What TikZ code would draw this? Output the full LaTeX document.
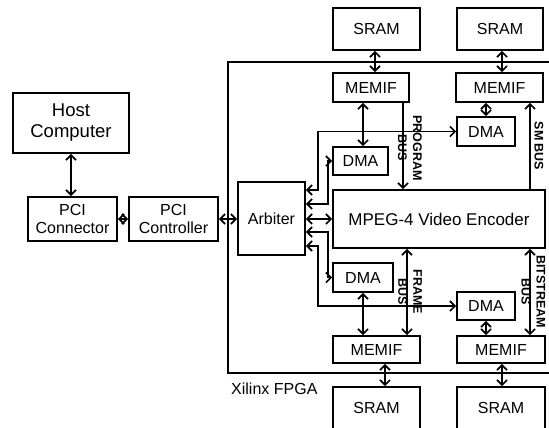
\documentclass[tikz,border=0pt]{standalone}
\usepackage{fontspec}
\setmainfont{Liberation Sans}
\usetikzlibrary{arrows.meta}
\begin{document}
\begin{tikzpicture}[x=1pt,y=-1pt,
  box/.style={draw,line width=1.7pt,inner sep=0pt,align=center,
    font=\fontsize{16}{18}\selectfont},
  link/.style={line width=1.7pt,
    arrows={Straight Barb[length=5pt,width=10pt]-Straight Barb[length=5pt,width=10pt]}},
  tohead/.style={line width=1.7pt,-{Straight Barb[length=5pt,width=10pt]}},
  buslabel/.style={rotate=-90,align=center,inner sep=0pt,
    font=\bfseries\fontsize{12.5}{15}\selectfont}]
\useasboundingbox (0,0) rectangle (549,428);

% FPGA outline (open to the right)
\draw[line width=1.7pt] (549,62) -- (228,62) -- (228,373) -- (549,373);
\node[anchor=west,inner sep=0pt,font=\fontsize{16}{18}\selectfont] (fpga) at (231,389) {Xilinx FPGA};

% host side
\node[box,minimum width=116,minimum height=60,font=\fontsize{18.5}{21}\selectfont] (host) at (71,123) {Host\\Computer};
\node[box,minimum width=89,minimum height=44] (pciconn) at (72.5,219) {PCI\\Connector};
\node[box,minimum width=89,minimum height=44] (pcictrl) at (173.5,219) {PCI\\Controller};

% FPGA blocks
\node[box,minimum width=67,minimum height=73] (arbiter) at (271.5,218.5) {Arbiter};
\node[box,minimum width=212,minimum height=58,font=\fontsize{17}{19}\selectfont] (enc) at (439,219) {MPEG-4 Video Encoder};

\node[box,minimum width=87,minimum height=42] (sram1) at (376.5,29) {SRAM};
\node[box,minimum width=86,minimum height=42] (sram2) at (500,29) {SRAM};
\node[box,minimum width=76,minimum height=29] (memif1) at (371,87.5) {MEMIF};
\node[box,minimum width=87,minimum height=29] (memif2) at (499.5,87.5) {MEMIF};
\node[box,minimum width=55,minimum height=28] (dma1) at (360.5,161) {DMA};
\node[box,minimum width=58,minimum height=29] (dma2) at (486,131.5) {DMA};

\node[box,minimum width=60,minimum height=29] (dma3) at (363,277.5) {DMA};
\node[box,minimum width=58,minimum height=28] (dma4) at (486,306) {DMA};
\node[box,minimum width=87,minimum height=27] (memif3) at (376.5,349.5) {MEMIF};
\node[box,minimum width=88,minimum height=27] (memif4) at (501,349.5) {MEMIF};
\node[box,minimum width=87,minimum height=42] (sram3) at (376.5,408) {SRAM};
\node[box,minimum width=88,minimum height=42] (sram4) at (501,408) {SRAM};

% column and row guides for the connectors
\coordinate (cSramA) at (375,0);
\coordinate (cSramB) at (502,0);
\coordinate (cDma) at (363,0);
\coordinate (cProg) at (403,0);
\coordinate (cSm) at (530,0);
\coordinate (cFrame) at (407,0);
\coordinate (cLinkB) at (486,0);
\coordinate (cSramC) at (385,0);
\coordinate (cOut) at (318,0);
\coordinate (cIn) at (328,0);
\coordinate (r1) at (0,190);
\coordinate (r2) at (0,204);
\coordinate (r4) at (0,232);
\coordinate (r5) at (0,246);

% host side connectors
\draw[link] (host.south) -- (host.south |- pciconn.north);
\draw[link] (pciconn.east) -- (pcictrl.west);
\draw[link] (pcictrl.east) -- (pcictrl.east -| arbiter.west);

% upper memory path
\draw[link] (sram1.south -| cSramA) -- (memif1.north -| cSramA);
\draw[link] (sram2.south -| cSramB) -- (memif2.north -| cSramB);
\draw[link] (memif1.south -| cDma) -- (dma1.north -| cDma);
\draw[link] (memif2.south -| cLinkB) -- (dma2.north -| cLinkB);
\draw[tohead] (memif1.south -| cProg) -- (enc.north -| cProg);
\draw[tohead] (enc.north -| cSm) -- (memif2.south -| cSm);

% arbiter fan-out
\draw[link] (arbiter.east |- r1) -| (cOut |- dma2.west) -- (dma2.west);
\draw[link] (arbiter.east |- r2) -| (cIn |- dma1.west) -- (dma1.west);
\draw[link] (arbiter.east |- enc.west) -- (enc.west);
\draw[link] (arbiter.east |- r4) -| (cIn |- dma3.west) -- (dma3.west);
\draw[link] (arbiter.east |- r5) -| (cOut |- dma4.west) -- (dma4.west);

% lower memory path
\draw[link] (dma3.south -| cDma) -- (memif3.north -| cDma);
\draw[link] (dma4.south -| cLinkB) -- (memif4.north -| cLinkB);
\draw[link] (enc.south -| cFrame) -- (memif3.north -| cFrame);
\draw[link] (enc.south -| cSm) -- (memif4.north -| cSm);
\draw[link] (memif3.south -| cSramC) -- (sram3.north -| cSramC);
\draw[link] (memif4.south -| cSramB) -- (sram4.north -| cSramB);

% bus names
\node[buslabel] (lprog) at (410,148) {PROGRAM\\BUS};
\node[buslabel] (lsm) at (539,146) {SM BUS};
\node[buslabel] (lframe) at (410,292) {FRAME\\BUS};
\node[buslabel] (lbits) at (533.5,291.5) {BITSTREAM\\BUS};
\end{tikzpicture}
\end{document}
